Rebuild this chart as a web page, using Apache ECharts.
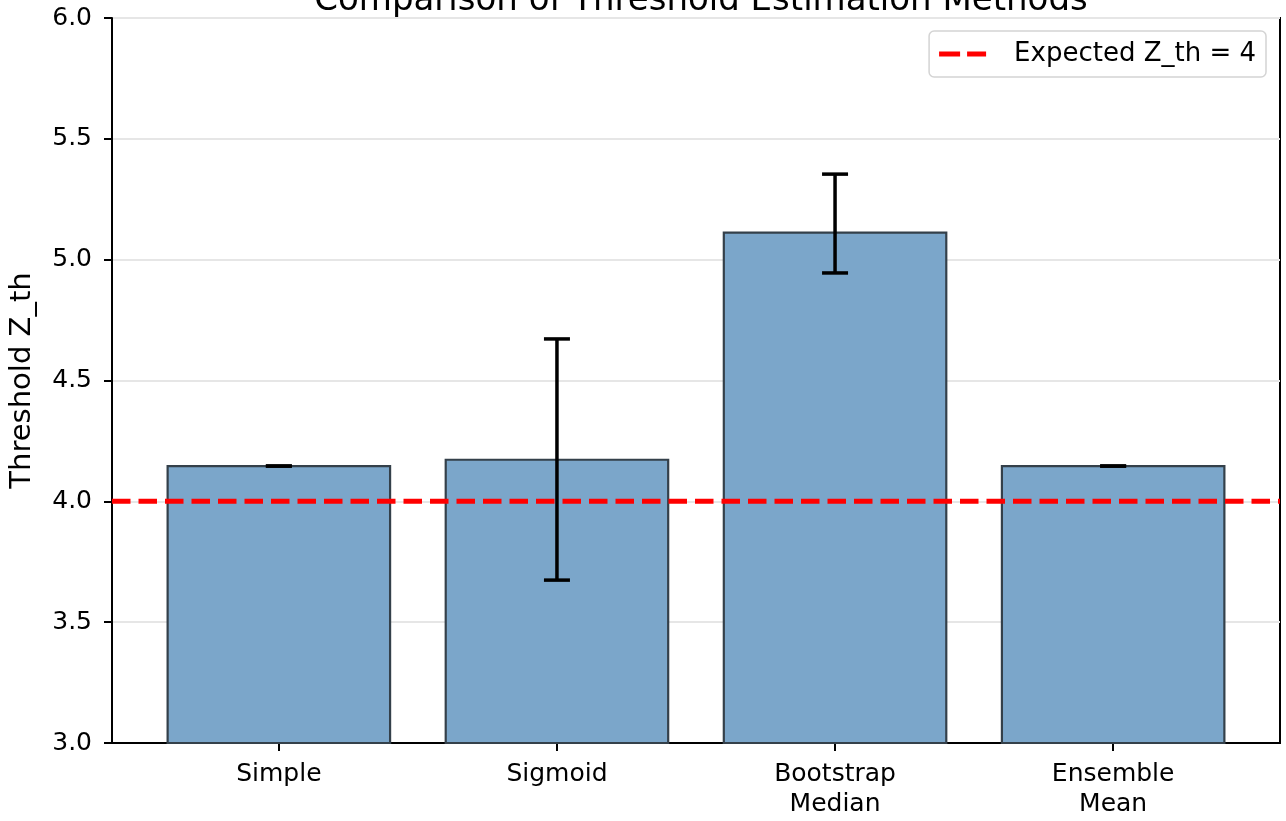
<!DOCTYPE html>
<html>
<head>
<meta charset="utf-8">
<title>Comparison of Threshold Estimation Methods</title>
<script src="https://cdn.jsdelivr.net/npm/echarts@6/dist/echarts.min.js"></script>
<style>
  html, body { margin: 0; padding: 0; background: #fff; }
  #chart { width: 1286px; height: 821px; }
</style>
</head>
<body>
<div id="chart"></div>
<script>
// Estimated threshold per method, with lower/upper error-bar limits
const methods = ['Simple', 'Sigmoid', 'Bootstrap\nMedian', 'Ensemble\nMean'];
const thresholds = [4.146, 4.172, 5.112, 4.146];
const errLow = [4.146, 3.674, 4.945, 4.146];
const errHigh = [4.146, 4.672, 5.354, 4.146];
const expectedZth = 4;
const yTicks = [3.0, 3.5, 4.0, 4.5, 5.0, 5.5, 6.0];

const FONT = 'DejaVu Sans';
const positions = methods.map((_, i) => i);

const barData = thresholds.map((v, i) => [i, v]);
const errData = thresholds.map((v, i) => [i, errLow[i], errHigh[i]]);

const chart = echarts.init(document.getElementById('chart'));

chart.setOption({
  animation: false,
  backgroundColor: '#fff',
  title: {
    text: 'Comparison of Threshold Estimation Methods',
    left: 696,
    textAlign: 'center',
    top: -21,
    textStyle: { fontFamily: FONT, fontSize: 34, fontWeight: 'normal', color: '#000' }
  },
  legend: {
    right: 20,
    top: 31,
    data: [{
      name: 'Expected Z_th = 4',
      // two short dashes, like a dashed line sample
      icon: 'path://M0,0H21V5H0Z M28,0H47V5H28Z'
    }],
    itemWidth: 47,
    itemHeight: 5,
    padding: [10, 10, 10, 10],
    backgroundColor: '#fff',
    borderColor: '#d4d4d4',
    borderWidth: 1.5,
    borderRadius: 5,
    itemStyle: { borderWidth: 0 },
    textStyle: { fontFamily: FONT, fontSize: 26, color: '#000', padding: [0, 0, 0, 23] }
  },
  grid: {
    left: 112, right: 6, top: 18, bottom: 78,
    show: true, borderColor: '#000', borderWidth: 2, backgroundColor: 'transparent'
  },
  xAxis: {
    type: 'value',
    min: -0.6,
    max: 3.6,
    splitLine: { show: false },
    axisLine: { show: true, onZero: false, lineStyle: { color: '#000', width: 2 } },
    axisTick: {
      show: true, length: 8, lineStyle: { color: '#000', width: 2 },
      customValues: positions
    },
    axisLabel: {
      customValues: positions,
      margin: 16,
      fontFamily: FONT, fontSize: 25, color: '#000', lineHeight: 30,
      formatter: v => methods[Math.round(v)]
    }
  },
  yAxis: {
    type: 'value',
    min: 3,
    max: 6,
    interval: 0.5,
    name: 'Threshold Z_th',
    nameLocation: 'middle',
    nameGap: 75,
    nameTextStyle: { fontFamily: FONT, fontSize: 29, color: '#000' },
    axisLine: { show: true, onZero: false, lineStyle: { color: '#000', width: 2 } },
    axisTick: { show: true, length: 8, lineStyle: { color: '#000', width: 2 } },
    axisLabel: {
      margin: 20,
      fontFamily: FONT, fontSize: 25, color: '#000',
      formatter: v => v.toFixed(1)
    },
    splitLine: { show: true, lineStyle: { color: '#e6e6e6', width: 2 } }
  },
  series: [
    {
      name: 'bars',
      type: 'custom',
      z: 2,
      data: barData,
      renderItem: (params, api) => {
        const x = api.value(0);
        const v = api.value(1);
        const p0 = api.coord([x - 0.4, v]);
        const p1 = api.coord([x + 0.4, 3]);
        return {
          type: 'rect',
          shape: { x: p0[0], y: p0[1], width: p1[0] - p0[0], height: p1[1] - p0[1] },
          style: { fill: '#7ba6ca', stroke: '#34404a', lineWidth: 2.2 }
        };
      }
    },
    {
      name: 'Expected Z_th = 4',
      type: 'line',
      z: 3,
      data: [[-0.6, expectedZth], [3.6, expectedZth]],
      symbol: 'none',
      lineStyle: { color: '#ff0000', width: 5, type: [18.5, 8] },
      itemStyle: { color: '#ff0000' }
    },
    {
      name: 'errors',
      type: 'custom',
      z: 4,
      data: errData,
      renderItem: (params, api) => {
        const x = api.value(0);
        const lo = api.coord([x, api.value(1)]);
        const hi = api.coord([x, api.value(2)]);
        const cap = 13;
        const style = { stroke: '#000', lineWidth: 3.5 };
        return {
          type: 'group',
          children: [
            { type: 'line', shape: { x1: lo[0], y1: lo[1], x2: hi[0], y2: hi[1] }, style },
            { type: 'line', shape: { x1: hi[0] - cap, y1: hi[1], x2: hi[0] + cap, y2: hi[1] }, style },
            { type: 'line', shape: { x1: lo[0] - cap, y1: lo[1], x2: lo[0] + cap, y2: lo[1] }, style }
          ]
        };
      }
    }
  ]
});
</script>
</body>
</html>
